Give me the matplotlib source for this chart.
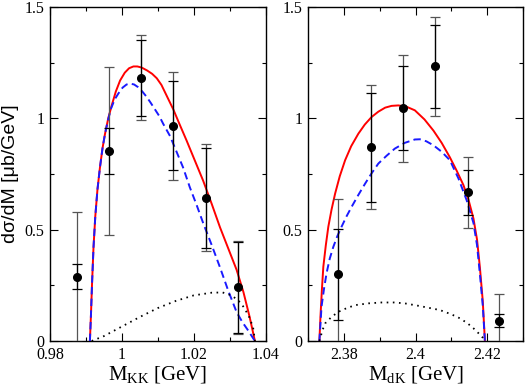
import matplotlib
matplotlib.use("Agg")
import matplotlib.pyplot as plt
from matplotlib.ticker import FixedLocator, MultipleLocator

# --- data ---
# left panel: K Kbar invariant mass
kk_x = [0.9874, 0.9963, 1.0054, 1.0142, 1.0233, 1.0322]
kk_y = [0.288, 0.853, 1.182, 0.967, 0.644, 0.241]
kk_err_in = [0.056, 0.103, 0.171, 0.200, 0.225, 0.203]
kk_err_out = [0.292, 0.377, 0.191, 0.242, 0.242, 0.210]

kk_full_x = [0.9911, 0.9914, 0.9917, 0.9921, 0.9926, 0.9932, 0.9939, 0.9946, 0.9953, 0.9962,
             0.9972, 0.9983, 0.9995, 1.0008, 1.0020, 1.0032, 1.0043, 1.0055, 1.0070, 1.0084,
             1.0097, 1.0110, 1.0125, 1.0143, 1.0160, 1.0180, 1.0203, 1.0226, 1.0250, 1.0273,
             1.0296, 1.0319, 1.0338, 1.0355, 1.0370]
kk_full_y = [0.0, 0.12, 0.26, 0.42, 0.56, 0.68, 0.78, 0.865, 0.93, 1.00,
             1.06, 1.12, 1.17, 1.205, 1.225, 1.233, 1.233, 1.228, 1.215, 1.20,
             1.18, 1.15, 1.10, 1.04, 0.975, 0.90, 0.81, 0.72, 0.615, 0.51,
             0.415, 0.32, 0.22, 0.11, 0.0]

kk_dash_x = [0.9911, 0.9914, 0.9917, 0.9921, 0.9926, 0.9932, 0.9939, 0.9946, 0.9953, 0.9961,
             0.9970, 0.9980, 0.9990, 1.0002, 1.0013, 1.0023, 1.0034, 1.0045, 1.0057, 1.0069,
             1.0080, 1.0092, 1.0104, 1.0115, 1.0134, 1.0152, 1.0170, 1.0189, 1.0208, 1.0226,
             1.0250, 1.0273, 1.0296, 1.0319, 1.0335, 1.0350, 1.0362, 1.0370]
kk_dash_y = [0.0, 0.12, 0.26, 0.42, 0.56, 0.68, 0.78, 0.865, 0.93, 0.99,
             1.045, 1.085, 1.111, 1.138, 1.152, 1.156, 1.152, 1.14, 1.12, 1.096,
             1.07, 1.04, 1.01, 0.975, 0.92, 0.85, 0.78, 0.69, 0.61, 0.53,
             0.43, 0.33, 0.225, 0.13, 0.085, 0.05, 0.02, 0.0]

kk_dot_x = [0.9916, 0.9950, 1.0000, 1.0050, 1.0100, 1.0150, 1.0200, 1.0250, 1.0280, 1.0305,
            1.0325, 1.0340, 1.0355, 1.0365, 1.0370]
kk_dot_y = [0.0, 0.022, 0.065, 0.108, 0.148, 0.180, 0.205, 0.217, 0.218, 0.205,
            0.18, 0.15, 0.105, 0.06, 0.0]

# right panel: d K invariant mass
dk_x = [2.3784, 2.3875, 2.3966, 2.4055, 2.4146, 2.4234]
dk_y = [0.299, 0.871, 1.046, 1.233, 0.667, 0.091]
dk_err_in = [0.205, 0.245, 0.189, 0.188, 0.100, 0.030]
dk_err_out = [0.338, 0.280, 0.240, 0.221, 0.159, 0.120]

dk_full_x = [2.3731, 2.3734, 2.3738, 2.3742, 2.3749, 2.3756, 2.3765, 2.3775, 2.3788, 2.3803,
             2.3820, 2.3840, 2.3858, 2.3877, 2.3896, 2.3915, 2.3933, 2.3952, 2.3975, 2.3998,
             2.4025, 2.4050, 2.4073, 2.4096, 2.4115, 2.4134, 2.4148, 2.4162, 2.4172, 2.4180,
             2.4188, 2.4194]
dk_full_y = [0.0, 0.109, 0.23, 0.333, 0.43, 0.513, 0.59, 0.662, 0.74, 0.812,
             0.875, 0.931, 0.972, 1.006, 1.03, 1.048, 1.056, 1.058, 1.052, 1.036,
             0.995, 0.945, 0.89, 0.825, 0.765, 0.70, 0.635, 0.55, 0.455, 0.33,
             0.18, 0.0]

dk_dash_x = [2.3731, 2.3737, 2.3744, 2.3751, 2.3760, 2.3770, 2.3781, 2.3793, 2.3807, 2.3821,
             2.3840, 2.3859, 2.3877, 2.3896, 2.3919, 2.3942, 2.3970, 2.3998, 2.4012, 2.4030,
             2.4050, 2.4073, 2.4096, 2.4120, 2.4143, 2.4162, 2.4172, 2.4180, 2.4188, 2.4194]
dk_dash_y = [0.0, 0.154, 0.235, 0.304, 0.37, 0.423, 0.47, 0.513, 0.56, 0.602,
             0.656, 0.707, 0.753, 0.797, 0.832, 0.864, 0.89, 0.905, 0.906, 0.897,
             0.879, 0.85, 0.812, 0.73, 0.632, 0.53, 0.43, 0.30, 0.16, 0.0]

dk_dot_x = [2.3731, 2.3740, 2.3747, 2.3765, 2.3784, 2.3808, 2.3831, 2.3868, 2.3905, 2.3940,
            2.3970, 2.4012, 2.4068, 2.4100, 2.4124, 2.4145, 2.4162, 2.4178, 2.4188, 2.4194]
dk_dot_y = [0.0, 0.05, 0.079, 0.108, 0.131, 0.148, 0.161, 0.169, 0.173, 0.173,
            0.169, 0.157, 0.139, 0.12, 0.102, 0.08, 0.057, 0.032, 0.015, 0.0]

y_ticks = [0, 0.5, 1, 1.5]
y_tick_labels = ["0", "0.5", "1", "1.5"]
kk_ticks = [0.98, 1.0, 1.02, 1.04]
kk_tick_labels = ["0.98", "1", "1.02", "1.04"]
dk_ticks = [2.38, 2.40, 2.42]
dk_tick_labels = ["2.38", "2.4", "2.42"]

SERIF = "Liberation Serif"
plt.rcParams["mathtext.fontset"] = "custom"
plt.rcParams["mathtext.rm"] = SERIF
plt.rcParams["mathtext.it"] = SERIF + ":italic"


def drawPanel(ax, px, py, e_in, e_out, full, dash, dot):
	ax.plot(*full, color="#ff0000", lw=1.4, zorder=2)
	ax.plot(*dash, color="#1a1aff", lw=1.4, linestyle=(0, (3.8, 2.2)), zorder=3)
	ax.plot(*dot, color="black", lw=1.3, linestyle=(0, (0.9, 2.5)), zorder=3)
	ax.errorbar(px, py, yerr=e_out, fmt="none", ecolor="#555555", elinewidth=0.9,
	            capsize=3.6, capthick=0.9, zorder=4)
	ax.errorbar(px, py, yerr=e_in, fmt="none", ecolor="black", elinewidth=0.9,
	            capsize=3.6, capthick=0.9, zorder=5)
	ax.plot(px, py, "o", color="black", ms=5.5, zorder=6)

	ax.set_ylim(0, 1.5)
	ax.yaxis.set_major_locator(FixedLocator(y_ticks))
	ax.set_yticklabels(y_tick_labels)
	ax.yaxis.set_minor_locator(MultipleLocator(0.25))
	ax.xaxis.set_minor_locator(MultipleLocator(0.01))
	ax.tick_params(which="both", direction="in", top=True, right=True, width=0.8)
	ax.tick_params(which="major", length=6, pad=4, labelsize=11.5)
	ax.tick_params(which="minor", length=3)
	for lbl in ax.get_xticklabels() + ax.get_yticklabels():
		lbl.set_family(SERIF)
	for sp in ax.spines.values():
		sp.set_linewidth(1.0)


fig = plt.figure(figsize=(5.25, 3.88), dpi=100)
axL = fig.add_axes([50 / 525, 47 / 388, 215.7 / 525, 334 / 388])
axR = fig.add_axes([308.3 / 525, 47 / 388, 214.5 / 525, 334 / 388])

axL.set_xlim(0.98, 1.04)
axL.xaxis.set_major_locator(FixedLocator(kk_ticks))
axL.set_xticklabels(kk_tick_labels)
drawPanel(axL, kk_x, kk_y, kk_err_in, kk_err_out,
          (kk_full_x, kk_full_y), (kk_dash_x, kk_dash_y), (kk_dot_x, kk_dot_y))
axL.set_xlabel(r"M$_{\mathrm{KK}}$ [GeV]", fontsize=15, family=SERIF, labelpad=1)
axL.set_ylabel("dσ/dM [μb/GeV]", fontsize=14, family="Liberation Sans")
axL.yaxis.set_label_coords(-0.145, 0.5)

axR.set_xlim(2.37, 2.43)
axR.xaxis.set_major_locator(FixedLocator(dk_ticks))
axR.set_xticklabels(dk_tick_labels)
drawPanel(axR, dk_x, dk_y, dk_err_in, dk_err_out,
          (dk_full_x, dk_full_y), (dk_dash_x, dk_dash_y), (dk_dot_x, dk_dot_y))
axR.set_xlabel(r"M$_{\mathrm{dK}}$ [GeV]", fontsize=15, family=SERIF, labelpad=1)

fig.savefig("out.png", dpi=100)
